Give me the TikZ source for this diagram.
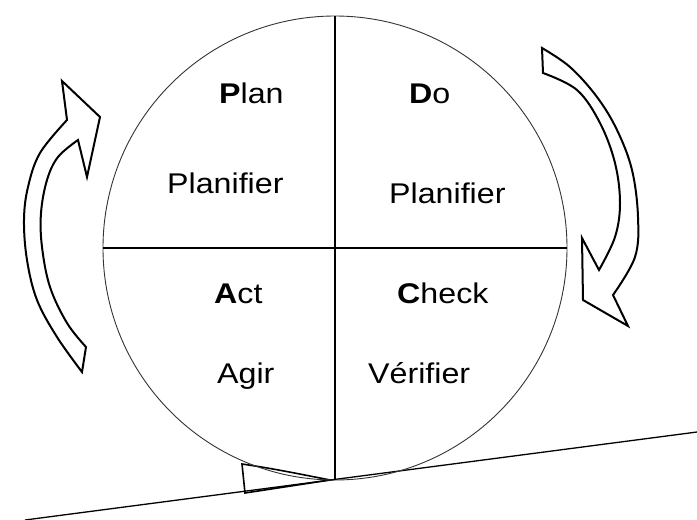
\documentclass[tikz,border=0pt]{standalone}
\usepackage{fontspec}
\setmainfont{Liberation Sans}[FakeStretch=1.13]
\begin{document}
\begin{tikzpicture}[x=1pt,y=-1pt,
  lbl/.style={anchor=base west,inner sep=0pt,font=\fontsize{28.5}{32}\selectfont},
  blockarrow/.style={draw=black,line width=2pt,line join=miter,fill=white},
  divider/.style={draw=black,line width=1.3pt}]
\useasboundingbox (0,0) rectangle (697,520);
% ground line
\coordinate (g1) at (25,520);
\coordinate (g2) at (697,432);
\draw[line width=1.3pt] (g1) -- (g2);
% wedge
\draw[line width=1.6pt,line join=miter] (242,464) .. controls (270,468) and (300,474) .. (330,480) -- (245,493) -- cycle;
% circle
\node[circle,draw=black!80,line width=0.9pt,minimum size=464pt,inner sep=0pt] (c) at (335,248) {};
\draw[divider] (c.north) -- (c.south);
\draw[divider] (c.west) -- (c.east);
% left arrow
\draw[blockarrow] plot[smooth,tension=0.6] coordinates {(82,372) (57,337) (37,300) (27,260) (24,220) (28,187) (40,153) (67,120)}
  -- (62,81) -- (100,117) -- (87,177) -- (78,140)
  -- plot[smooth,tension=0.6] coordinates {(78,140) (58,157) (47,180) (41,213) (42,247) (50,287) (67,323) (86,347)} -- cycle;
% right arrow
\draw[blockarrow] plot[smooth,tension=0.6] coordinates {(542,48) (570,67) (597,97) (617,130) (632,170) (638,217) (635,257) (613,295)}
  -- (628,326) -- (583,300) -- (582,238) -- (599,270)
  -- plot[smooth,tension=0.6] coordinates {(599,270) (615,237) (620,203) (615,163) (600,123) (577,90) (543,73)} -- cycle;
% labels
\node[lbl] (plan) at (219,103) {\textbf{P}lan};
\node[lbl] (do) at (409,103) {\textbf{D}o};
\node[lbl] (plan2) at (167,193) {Planifier};
\node[lbl] (do2) at (389,203) {Planifier};
\node[lbl] (act) at (214,303) {\textbf{A}ct};
\node[lbl] (check) at (397,303) {\textbf{C}heck};
\node[lbl] (act2) at (217,383) {Agir};
\node[lbl] (check2) at (368,383) {Vérifier};
\end{tikzpicture}
\end{document}
